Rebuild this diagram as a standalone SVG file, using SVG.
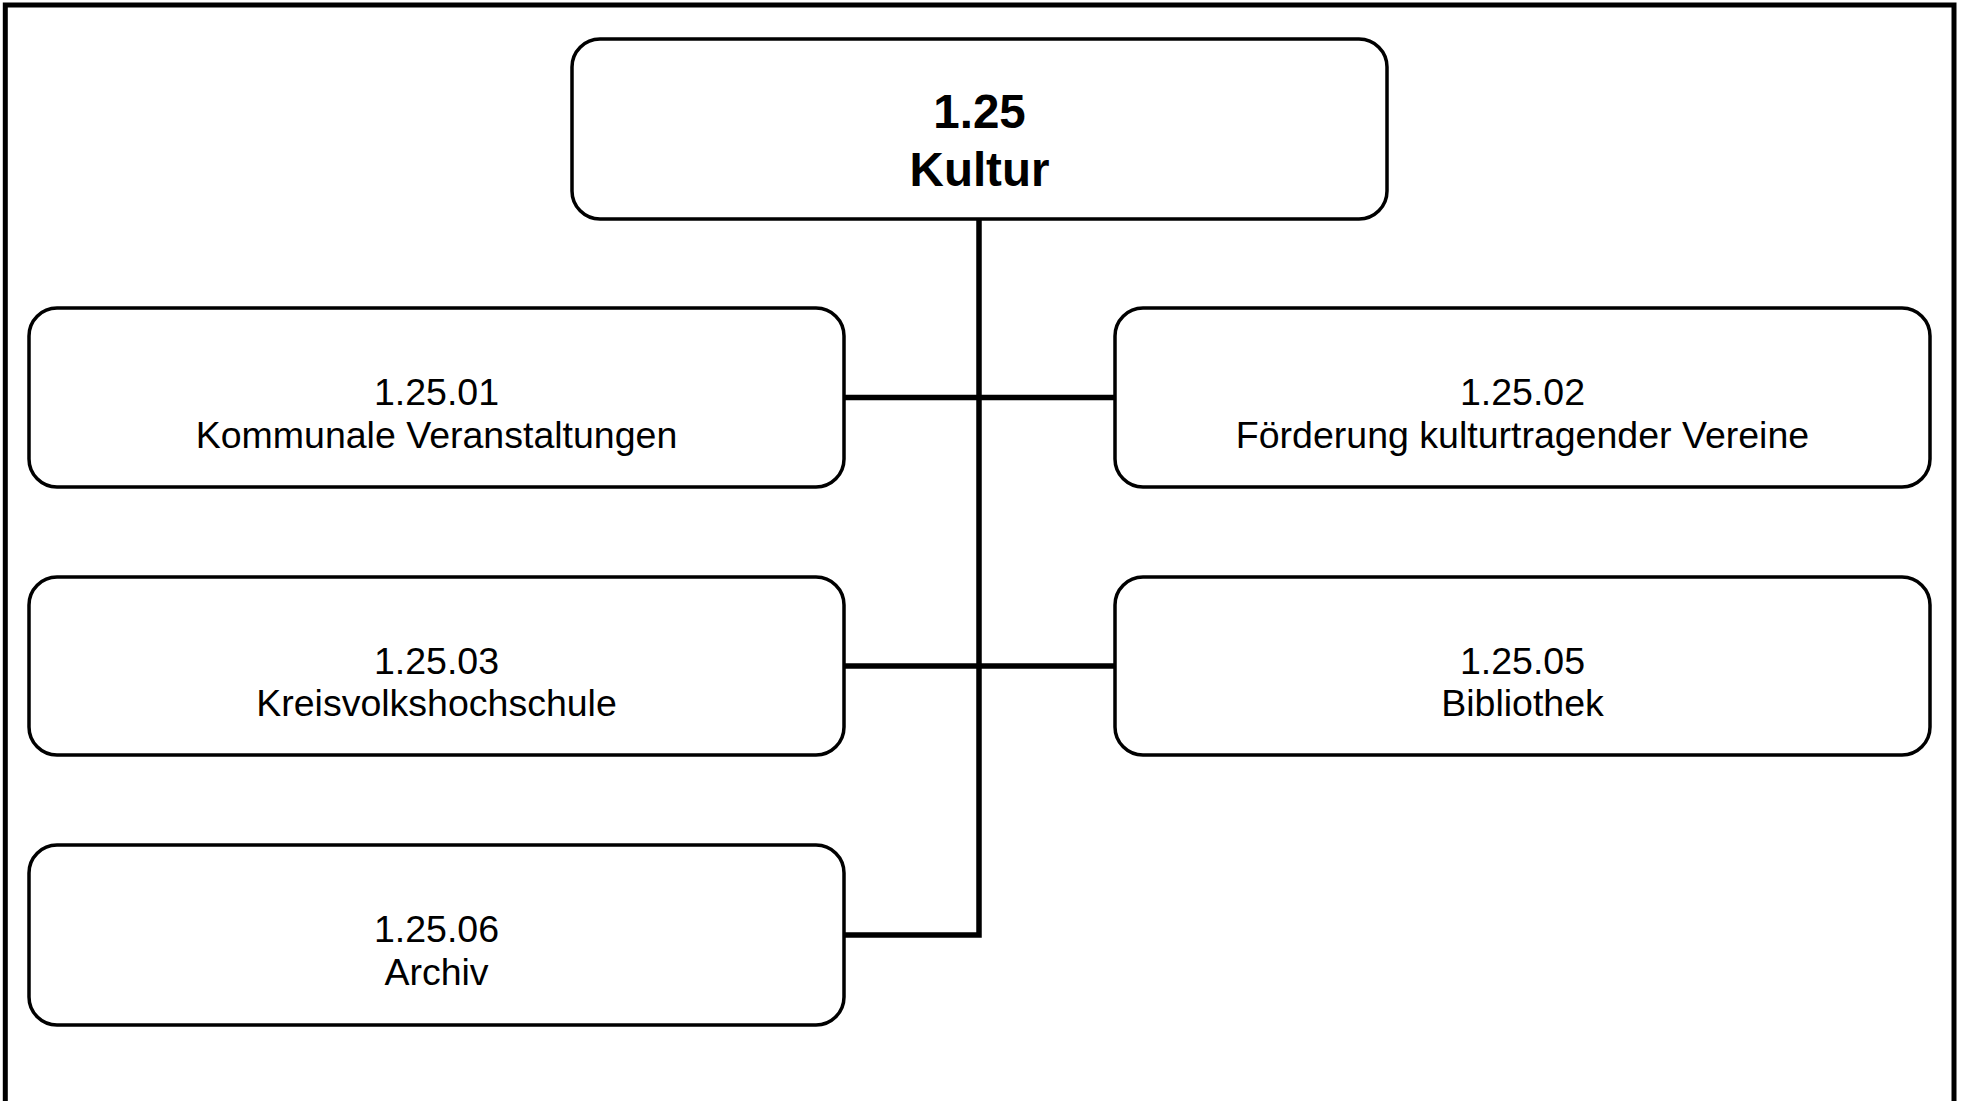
<svg xmlns="http://www.w3.org/2000/svg" width="1961" height="1101" viewBox="0 0 1961 1101">
<style>
.box{fill:#fff;stroke:#000;stroke-width:3.5}
.t{font-family:"Liberation Sans",Arial,sans-serif;font-size:37.5px;fill:#000;text-anchor:middle}
.tb{font-family:"Liberation Sans",Arial,sans-serif;font-size:47.5px;font-weight:bold;fill:#000;text-anchor:middle}
.c{fill:none;stroke:#000;stroke-width:5.5}
</style>
<rect x="0" y="0" width="1961" height="1101" fill="#fff"/>
<rect x="5.3" y="5" width="1948.7" height="1200" fill="none" stroke="#000" stroke-width="5"/>
<g id="connectors">
<path class="c" d="M979 219 V935 H844"/>
<path class="c" d="M844 397.5 H1115"/>
<path class="c" d="M844 666 H1115"/>
</g>
<g id="n125">
<rect class="box" x="572" y="39" width="815" height="180" rx="28"/>
<text class="tb" x="979.5" y="128">1.25</text>
<text class="tb" x="979.5" y="186">Kultur</text>
</g>
<g id="n12501">
<rect class="box" x="29" y="308" width="815" height="179" rx="28"/>
<text class="t" x="436.5" y="405">1.25.01</text>
<text class="t" x="436.5" y="448">Kommunale Veranstaltungen</text>
</g>
<g id="n12502">
<rect class="box" x="1115" y="308" width="815" height="179" rx="28"/>
<text class="t" x="1522.5" y="405">1.25.02</text>
<text class="t" x="1522.5" y="448">Förderung kulturtragender Vereine</text>
</g>
<g id="n12503">
<rect class="box" x="29" y="577" width="815" height="178" rx="28"/>
<text class="t" x="436.5" y="673.5">1.25.03</text>
<text class="t" x="436.5" y="716">Kreisvolkshochschule</text>
</g>
<g id="n12505">
<rect class="box" x="1115" y="577" width="815" height="178" rx="28"/>
<text class="t" x="1522.5" y="673.5">1.25.05</text>
<text class="t" x="1522.5" y="716">Bibliothek</text>
</g>
<g id="n12506">
<rect class="box" x="29" y="845" width="815" height="180" rx="28"/>
<text class="t" x="436.5" y="942">1.25.06</text>
<text class="t" x="436.5" y="985">Archiv</text>
</g>
</svg>
